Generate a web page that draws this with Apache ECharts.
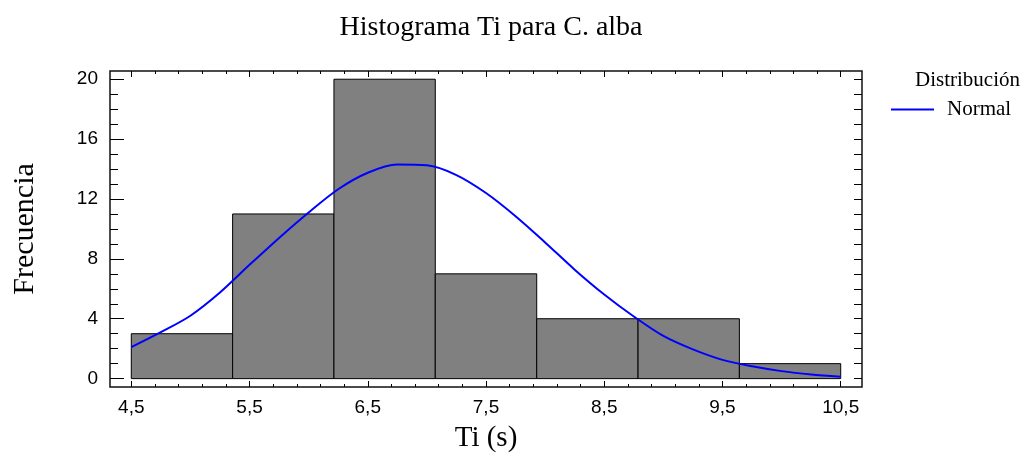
<!DOCTYPE html>
<html>
<head>
<meta charset="utf-8">
<script src="https://cdn.jsdelivr.net/npm/echarts@6/dist/echarts.min.js"></script>
<style>
html,body{margin:0;padding:0;background:#fff;}
#chart{width:1029px;height:458px;}
</style>
</head>
<body>
<div id="chart"></div>
<script>
// Histogram bins (Ti, s) and counts
const binEdges = [4.5, 5.357, 6.214, 7.071, 7.929, 8.786, 9.643, 10.5];
const counts = [3, 11, 20, 7, 4, 4, 1];

// Fitted Normal curve
const curveX = [4.5, 4.75, 5.0, 5.25, 5.5, 5.75, 6.0, 6.25, 6.5, 6.75, 7.0, 7.25, 7.5, 7.75, 8.0, 8.25, 8.5, 8.75, 9.0, 9.25, 9.5, 9.75, 10.0, 10.25, 10.5];
const curveY = [2.1, 3.1, 4.2, 5.75, 7.6, 9.4, 11.1, 12.65, 13.75, 14.3, 14.25, 13.6, 12.4, 10.85, 9.1, 7.28, 5.62, 4.15, 2.85, 1.95, 1.25, 0.82, 0.5, 0.28, 0.13];

// Tick values
const xMajorTicks = [4.5, 5.5, 6.5, 7.5, 8.5, 9.5, 10.5];
const xMinorTicks = [4.7, 4.9, 5.1, 5.3, 5.7, 5.9, 6.1, 6.3, 6.7, 6.9, 7.1, 7.3, 7.7, 7.9, 8.1, 8.3, 8.7, 8.9, 9.1, 9.3, 9.7, 9.9, 10.1, 10.3];
const yMajorTicks = [0, 4, 8, 12, 16, 20];
const yMinorTicks = [1, 2, 3, 5, 6, 7, 9, 10, 11, 13, 14, 15, 17, 18, 19];
const yAllTicks = [0,1,2,3,4,5,6,7,8,9,10,11,12,13,14,15,16,17,18,19,20];

const titleText = 'Histograma Ti para C. alba';
const xName = 'Ti (s)';
const yName = 'Frecuencia';
const legendTitle = 'Distribución';
const seriesName = 'Normal';

const SERIF = '"Liberation Serif", "Times New Roman", serif';
const SANS = '"Liberation Sans", Arial, sans-serif';
const X_MIN = 4.32, X_MAX = 10.68, Y_MIN = -0.56, Y_MAX = 20.55;

function xAxisDef(pos, ticks, len, withLabel) {
  return {
    type: 'value', position: pos, min: X_MIN, max: X_MAX,
    axisLine: { show: false, onZero: false },
    splitLine: { show: false },
    axisTick: { show: true, inside: true, length: len, customValues: ticks,
      lineStyle: { color: '#000', width: 1 } },
    axisLabel: withLabel ? {
      show: true, customValues: ticks, margin: 11, color: '#000',
      fontFamily: SANS, fontSize: 19,
      formatter: v => String(v).replace('.', ',')
    } : { show: false }
  };
}
function yAxisDef(pos, ticks, len, withLabel) {
  return {
    type: 'value', position: pos, min: Y_MIN, max: Y_MAX,
    axisLine: { show: false, onZero: false },
    splitLine: { show: false },
    axisTick: { show: true, inside: true, length: len, customValues: ticks,
      lineStyle: { color: '#000', width: 1 } },
    axisLabel: withLabel ? {
      show: true, customValues: ticks, margin: 12, color: '#000',
      fontFamily: SANS, fontSize: 19
    } : { show: false }
  };
}

const xAxes = [
  xAxisDef('bottom', xMajorTicks, 6, true),
  xAxisDef('bottom', xMinorTicks, 3, false),
  xAxisDef('top', xMajorTicks, 6, false),
  xAxisDef('top', xMinorTicks, 3, false)
];
Object.assign(xAxes[0], {
  name: xName, nameLocation: 'middle', nameGap: 37,
  nameTextStyle: { fontFamily: SERIF, fontSize: 29, color: '#000' }
});
const yAxes = [
  yAxisDef('left', yMajorTicks, 14, true),
  yAxisDef('left', yMinorTicks, 8, false),
  yAxisDef('right', yAllTicks, 8, false)
];
Object.assign(yAxes[0], {
  name: yName, nameLocation: 'middle', nameGap: 70, nameRotate: 90,
  nameTextStyle: { fontFamily: SERIF, fontSize: 30, color: '#000' }
});

const barData = counts.map((c, i) => [binEdges[i], binEdges[i + 1], c]);
const lineData = curveX.map((x, i) => [x, curveY[i]]);

const chart = echarts.init(document.getElementById('chart'), null, { renderer: 'canvas' });
chart.setOption({
  backgroundColor: '#fff',
  animation: false,
  title: [
    { text: titleText, left: 486, textAlign: 'center', top: 9,
      textStyle: { fontFamily: SERIF, fontSize: 28, fontWeight: 'normal', color: '#000' } },
    { text: legendTitle, left: 910, top: 65,
      textStyle: { fontFamily: SERIF, fontSize: 21, fontWeight: 'normal', color: '#000' } }
  ],
  legend: {
    data: [seriesName], left: 886, top: 94, icon: 'rect', itemWidth: 43, itemHeight: 2,
    textStyle: { fontFamily: SERIF, fontSize: 21, color: '#000', padding: [0, 0, 0, 8] }
  },
  grid: { left: 110, top: 71, width: 752, height: 317, show: true,
    borderColor: '#111', borderWidth: 1.5, backgroundColor: 'transparent' },
  xAxis: xAxes,
  yAxis: yAxes,
  series: [
    {
      type: 'custom', name: 'hist', xAxisIndex: 0, yAxisIndex: 0,
      encode: { x: [0, 1], y: 2 },
      data: barData,
      renderItem: function (params, api) {
        const p0 = api.coord([api.value(0), api.value(2)]);
        const p1 = api.coord([api.value(1), 0]);
        return { type: 'rect',
          shape: { x: p0[0], y: p0[1], width: p1[0] - p0[0], height: p1[1] - p0[1] },
          style: { fill: '#808080', stroke: '#000', lineWidth: 1 } };
      },
      z: 2
    },
    {
      type: 'line', name: seriesName, xAxisIndex: 0, yAxisIndex: 0,
      data: lineData, smooth: 0.3, symbol: 'none',
      lineStyle: { color: '#0000ff', width: 2 }, itemStyle: { color: '#0000ff' },
      z: 3
    }
  ]
});
</script>
</body>
</html>
